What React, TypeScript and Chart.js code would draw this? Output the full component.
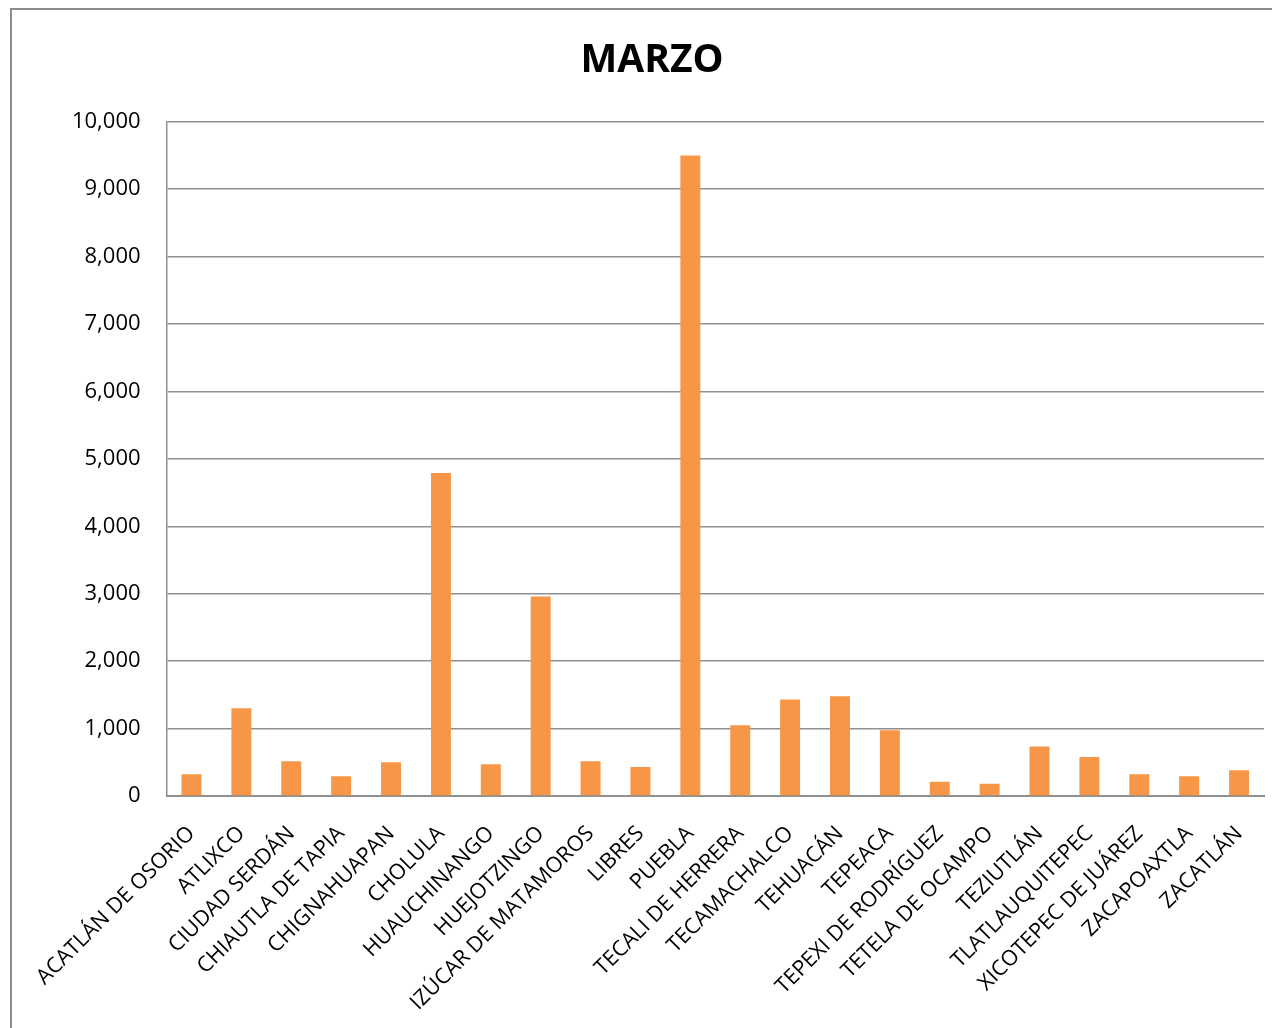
import React, { useEffect, useRef } from "react";
import { Chart, registerables } from "chart.js";

Chart.register(...registerables);

const categories: string[] = [
  "ACATLÁN DE OSORIO",
  "ATLIXCO",
  "CIUDAD SERDÁN",
  "CHIAUTLA DE TAPIA",
  "CHIGNAHUAPAN",
  "CHOLULA",
  "HUAUCHINANGO",
  "HUEJOTZINGO",
  "IZÚCAR DE MATAMOROS",
  "LIBRES",
  "PUEBLA",
  "TECALI DE HERRERA",
  "TECAMACHALCO",
  "TEHUACÁN",
  "TEPEACA",
  "TEPEXI DE RODRÍGUEZ",
  "TETELA DE OCAMPO",
  "TEZIUTLÁN",
  "TLATLAUQUITEPEC",
  "XICOTEPEC DE JUÁREZ",
  "ZACAPOAXTLA",
  "ZACATLÁN",
];

const marzoValues: number[] = [
  322, 1302, 515, 292, 500, 4790, 470, 2960, 515, 430, 9500, 1049, 1430, 1479,
  975, 213, 183, 733, 579, 322, 292, 381,
];

const chartTitle = "MARZO";
const yMin = 0;
const yMax = 10000;
const yStep = 1000;

export default function App() {
  const canvasRef = useRef<HTMLCanvasElement | null>(null);

  useEffect(() => {
    if (!canvasRef.current) return;
    const chart = new Chart(canvasRef.current, {
      type: "bar",
      data: {
        labels: categories,
        datasets: [
          {
            label: chartTitle,
            data: marzoValues,
            backgroundColor: "#F79646",
            borderWidth: 0,
            barPercentage: 0.4,
            categoryPercentage: 1,
          },
        ],
      },
      options: {
        responsive: false,
        animation: false,
        layout: { padding: { left: 28, right: 28, top: 0, bottom: 0 } },
        plugins: {
          legend: { display: false },
          tooltip: { enabled: false },
          title: {
            display: true,
            text: chartTitle,
            color: "#000",
            font: { family: "Open Sans", size: 39, weight: "bold" },
            padding: { top: 27, bottom: 38 },
          },
        },
        scales: {
          x: {
            grid: { display: false, drawTicks: false },
            border: { display: true, color: "#8f8f8f", width: 2 },
            ticks: {
              color: "#000",
              font: { family: "Open Sans", size: 21.5 },
              minRotation: 45,
              maxRotation: 45,
              autoSkip: false,
              padding: 25,
            },
            afterFit: (scale: any) => {
              scale.height = 264;
            },
          },
          y: {
            min: yMin,
            max: yMax,
            grid: { color: "#8f8f8f", lineWidth: 1.5, drawTicks: false },
            border: { display: true, color: "#8f8f8f", width: 1.5 },
            ticks: {
              stepSize: yStep,
              color: "#000",
              font: { family: "Open Sans", size: 22 },
              padding: 26,
              callback: (v: any) => Number(v).toLocaleString("en-US"),
            },
            afterFit: (scale: any) => {
              scale.width = 126;
            },
          },
        },
      },
    });
    return () => chart.destroy();
  }, []);

  return (
    <div
      style={{
        position: "fixed",
        left: 0,
        top: 0,
        width: 1272,
        height: 1028,
        overflow: "hidden",
        background: "#fff",
      }}
    >
      <div
        style={{
          position: "absolute",
          left: 10,
          top: 8,
          width: 1290,
          height: 1060,
          border: "2px solid #8b8b8b",
          boxSizing: "content-box",
        }}
      >
        <canvas
          ref={canvasRef}
          width={1280}
          height={1050}
          style={{ display: "block", width: 1280, height: 1050 }}
        />
      </div>
    </div>
  );
}
